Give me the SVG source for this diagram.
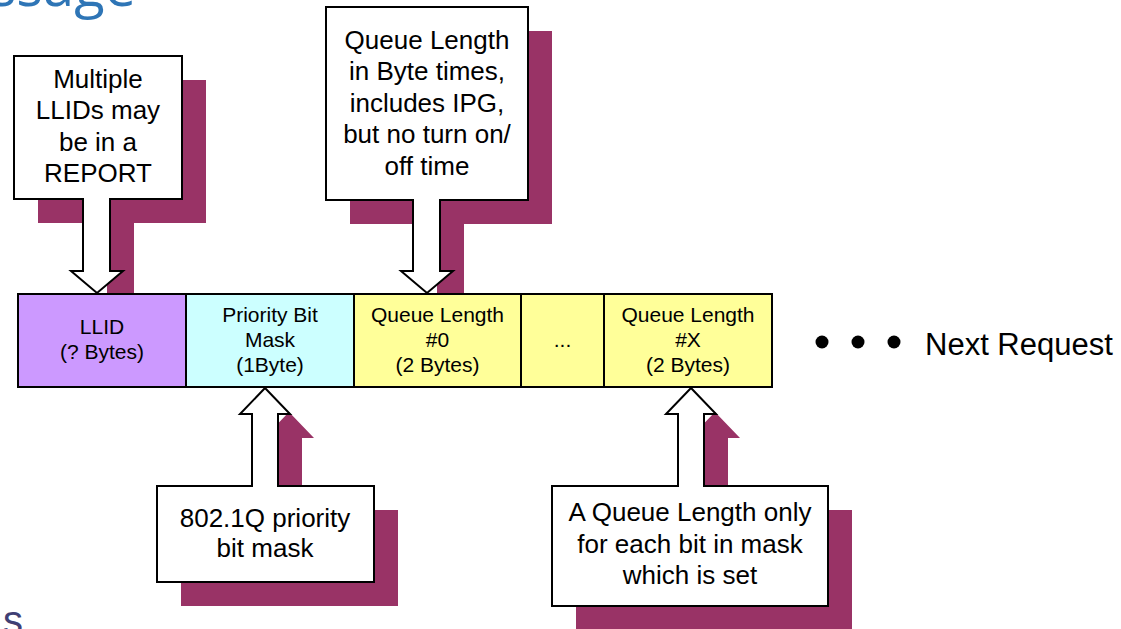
<svg xmlns="http://www.w3.org/2000/svg" width="1121" height="629" viewBox="0 0 1121 629">
<style>
  .shadow { fill: #993366; stroke: none; }
  .callout { fill: #FFFFFF; stroke: #000000; stroke-width: 2; stroke-linejoin: miter; }
  .cell { stroke: #000000; stroke-width: 2; }
  .ct { font-family: "Liberation Sans", Arial, sans-serif; font-size: 26px; fill: #000000; text-anchor: middle; }
  .bt { font-family: "Liberation Sans", Arial, sans-serif; font-size: 21px; fill: #000000; text-anchor: middle; }
</style>
<rect width="1121" height="629" fill="#FFFFFF"/>
<text x="136" y="6" font-family="'Open Sans', 'Liberation Sans', Arial, sans-serif" font-size="56" fill="#2E75B6" text-anchor="end">Message</text>
<text x="3" y="634" font-family="'Liberation Sans', Arial, sans-serif" font-size="40" fill="#3F3F74">s</text>

<g id="shadows">
  <path class="shadow" transform="translate(24,24)" d="M14,56 H182 V199 H110 V271 H123 L97,293 L71,271 H83 V199 H14 Z"/>
  <path class="shadow" transform="translate(24,24)" d="M326,7 H528 V200 H440 V271 H453 L427,293 L401,271 H413 V200 H326 Z"/>
  <path class="shadow" transform="translate(24,24)" d="M157,486 H252 V414 H240 L265,388 L290,414 H278 V486 H374 V582 H157 Z"/>
  <path class="shadow" transform="translate(24,24)" d="M552,486 H678 V414 H666 L691,388 L716,414 H704 V486 H828 V606 H552 Z"/>
</g>

<g id="bar">
  <g id="cell-llid">
    <rect class="cell" x="18" y="294" width="168" height="93" fill="#CC99FF"/>
    <text class="bt" x="102" y="334">LLID</text>
    <text class="bt" x="102" y="359">(? Bytes)</text>
  </g>
  <g id="cell-priority">
    <rect class="cell" x="186" y="294" width="168" height="93" fill="#CCFFFF"/>
    <text class="bt" x="270" y="322">Priority Bit</text>
    <text class="bt" x="270" y="347">Mask</text>
    <text class="bt" x="270" y="372">(1Byte)</text>
  </g>
  <g id="cell-q0">
    <rect class="cell" x="354" y="294" width="167" height="93" fill="#FFFF99"/>
    <text class="bt" x="437.5" y="322">Queue Length</text>
    <text class="bt" x="437.5" y="347">#0</text>
    <text class="bt" x="437.5" y="372">(2 Bytes)</text>
  </g>
  <g id="cell-dots">
    <rect class="cell" x="521" y="294" width="83" height="93" fill="#FFFF99"/>
    <text class="bt" x="562.5" y="347">...</text>
  </g>
  <g id="cell-qx">
    <rect class="cell" x="604" y="294" width="168" height="93" fill="#FFFF99"/>
    <text class="bt" x="688" y="322">Queue Length</text>
    <text class="bt" x="688" y="347">#X</text>
    <text class="bt" x="688" y="372">(2 Bytes)</text>
  </g>
</g>

<g id="next-request">
  <circle cx="822" cy="342" r="6.5" fill="#000000"/>
  <circle cx="858" cy="342" r="6.5" fill="#000000"/>
  <circle cx="894" cy="342" r="6.5" fill="#000000"/>
  <text x="925" y="355" font-family="'Liberation Sans', Arial, sans-serif" font-size="31" fill="#000000">Next Request</text>
</g>

<g id="callout-llids">
  <path class="callout" d="M14,56 H182 V199 H110 V271 H123 L97,293 L71,271 H83 V199 H14 Z"/>
  <text class="ct" x="98" y="88">Multiple</text>
  <text class="ct" x="98" y="119">LLIDs may</text>
  <text class="ct" x="98" y="151">be in a</text>
  <text class="ct" x="98" y="182">REPORT</text>
</g>

<g id="callout-queue-length">
  <path class="callout" d="M326,7 H528 V200 H440 V271 H453 L427,293 L401,271 H413 V200 H326 Z"/>
  <text class="ct" x="427" y="49">Queue Length</text>
  <text class="ct" x="427" y="80">in Byte times,</text>
  <text class="ct" x="427" y="112">includes IPG,</text>
  <text class="ct" x="427" y="143">but no turn on/</text>
  <text class="ct" x="427" y="175">off time</text>
</g>

<g id="callout-priority">
  <path class="callout" d="M157,486 H252 V414 H240 L265,388 L290,414 H278 V486 H374 V582 H157 Z"/>
  <text class="ct" x="265" y="527">802.1Q priority</text>
  <text class="ct" x="265" y="557">bit mask</text>
</g>

<g id="callout-each-bit">
  <path class="callout" d="M552,486 H678 V414 H666 L691,388 L716,414 H704 V486 H828 V606 H552 Z"/>
  <text class="ct" x="690" y="521">A Queue Length only</text>
  <text class="ct" x="690" y="553">for each bit in mask</text>
  <text class="ct" x="690" y="584">which is set</text>
</g>
</svg>
